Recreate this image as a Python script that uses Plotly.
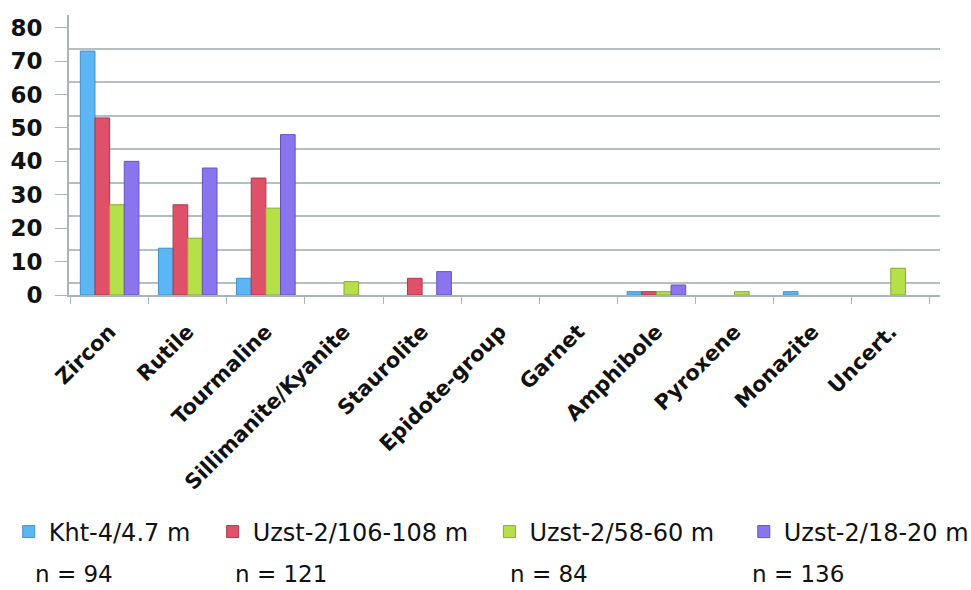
import plotly.graph_objects as go

minerals = ["Zircon", "Rutile", "Tourmaline", "Sillimanite/Kyanite", "Staurolite",
            "Epidote-group", "Garnet", "Amphibole", "Pyroxene", "Monazite", "Uncert."]

kht_4 = [73, 14, 5, 0, 0, 0, 0, 1, 0, 1, 0]
uzst_106 = [53, 27, 35, 0, 5, 0, 0, 1, 0, 0, 0]
uzst_58 = [27, 17, 26, 4, 0, 0, 0, 1, 1, 0, 8]
uzst_18 = [40, 38, 48, 0, 7, 0, 0, 3, 0, 0, 0]

series_names = ["Kht-4/4.7 m", "Uzst-2/106-108 m", "Uzst-2/58-60 m", "Uzst-2/18-20 m"]
counts = ["n = 94", "n = 121", "n = 84", "n = 136"]
y_ticks = [0, 10, 20, 30, 40, 50, 60, 70, 80]

fills = ["#5cb6f4", "#de5169", "#b6e04a", "#8a75ee"]
edges = ["#3f8fcc", "#a8394d", "#88aa30", "#6554c0"]

FONT = "DejaVu Sans"
AXIS_GREY = "#a9b4b6"
TEXT = "#111111"

# one legend per series so each entry sits above its sample count
legend_ids = ["legend", "legend2", "legend3", "legend4"]
legend_x = [0.009, 0.219, 0.504, 0.766]
count_x = [-0.041, 0.1886, 0.5043, 0.7822]

fig = go.Figure()
for name, vals, fc, ec, lid in zip(series_names, [kht_4, uzst_106, uzst_58, uzst_18],
                                   fills, edges, legend_ids):
    fig.add_trace(go.Bar(
        x=minerals, y=vals, name=name, legend=lid,
        marker=dict(color=fc, line=dict(color=ec, width=[1 if v else 0 for v in vals])),
    ))

# invisible helper trace carrying the back-wall gridlines (offset axis)
fig.add_trace(go.Scatter(x=[minerals[0]], y=[None], yaxis="y2", showlegend=False,
                         hoverinfo="skip", mode="markers"))

for xp, txt in zip(count_x, counts):
    fig.add_annotation(x=xp, y=-0.996, xref="paper", yref="paper", text=txt,
                       showarrow=False, xanchor="left", yanchor="middle",
                       font=dict(family=FONT, size=23, color=TEXT))

legend_style = dict(orientation="h", xref="container", yref="container", y=0.0983,
                    xanchor="left", yanchor="middle", bgcolor="rgba(0,0,0,0)",
                    font=dict(family=FONT, size=24, color=TEXT), itemwidth=30)

layout_legends = {lid: dict(legend_style, x=lx) for lid, lx in zip(legend_ids, legend_x)}

fig.update_layout(
    width=971, height=590,
    margin=dict(l=69, r=31, t=15, b=295, autoexpand=False),
    paper_bgcolor="white", plot_bgcolor="white",
    barmode="group", bargap=0.25, bargroupgap=0.0,
    font=dict(family=FONT, color=TEXT),
    showlegend=True,
    xaxis=dict(
        range=[-0.52, 10.63], automargin=False,
        tickangle=-45, tickson="boundaries", ticks="outside", ticklen=7,
        tickcolor=AXIS_GREY, showline=True, linecolor=AXIS_GREY, linewidth=2,
        tickfont=dict(family=FONT, size=21, color=TEXT, weight="bold"),
        ticklabelstandoff=14, showgrid=False,
    ),
    yaxis=dict(
        range=[0, 83.8], tickvals=y_ticks, ticks="outside", ticklen=12, automargin=False,
        tickcolor=AXIS_GREY, showline=True, linecolor=AXIS_GREY, linewidth=2,
        showgrid=False, zeroline=False, ticklabelstandoff=8,
        tickfont=dict(family=FONT, size=23, color=TEXT, weight="bold"),
    ),
    yaxis2=dict(
        overlaying="y", range=[-3.58, 80], tickvals=y_ticks, showticklabels=False,
        showgrid=True, gridcolor="#b4bfc1", gridwidth=1.5, zeroline=False,
        showline=False, side="right", automargin=False,
    ),
    **layout_legends,
)

fig.write_html("out.html")
